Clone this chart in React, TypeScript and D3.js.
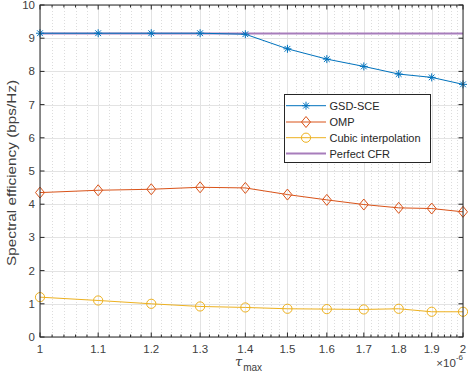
import React from "react";
import * as d3 from "d3";

const tauValues = [1, 1.1, 1.2, 1.3, 1.4, 1.5, 1.6, 1.7, 1.8, 1.9, 2];
const gsdSce = [9.15, 9.15, 9.15, 9.15, 9.12, 8.68, 8.37, 8.15, 7.92, 7.82, 7.61];
const omp = [4.35, 4.42, 4.45, 4.51, 4.49, 4.29, 4.13, 3.99, 3.89, 3.87, 3.77];
const cubic = [1.2, 1.1, 1.0, 0.92, 0.89, 0.85, 0.84, 0.83, 0.85, 0.76, 0.76];
const perfectCfr = [9.14, 9.14];
const perfectTau = [1, 2];

const xTickLabels = ["1", "1.1", "1.2", "1.3", "1.4", "1.5", "1.6", "1.7", "1.8", "1.9", "2"];
const yTicks = [0, 1, 2, 3, 4, 5, 6, 7, 8, 9, 10];

const W = 468;
const H = 382;
const m = { left: 40, right: 5, top: 5, bottom: 45 };

const AX = "#262626";
const LBL = "#404040";
const C1 = "#0072BD";
const C2 = "#D95319";
const C3 = "#EDB120";
const C4 = "#A77DBB";
const FONT = "'Liberation Sans', Arial, Helvetica, sans-serif";

const Asterisk = ({ x, y, color }: { x: number; y: number; color: string }) => {
  const r = 4;
  const d = r * 0.72;
  return (
    <path
      d={`M${x - r},${y}H${x + r}M${x},${y - r}V${y + r}M${x - d},${y - d}L${x + d},${y + d}M${x - d},${y + d}L${x + d},${y - d}`}
      stroke={color}
      strokeWidth={1}
      fill="none"
    />
  );
};

const Diamond = ({ x, y, color }: { x: number; y: number; color: string }) => (
  <path
    d={`M${x},${y - 5.5}L${x + 4.5},${y}L${x},${y + 5.5}L${x - 4.5},${y}Z`}
    stroke={color}
    strokeWidth={1}
    fill="none"
  />
);

const Circle = ({ x, y, color }: { x: number; y: number; color: string }) => (
  <circle cx={x} cy={y} r={4.6} stroke={color} strokeWidth={1} fill="none" />
);

export default function App() {
  const x = d3.scaleLog().domain([1, 2]).range([m.left, W - m.right]);
  const y = d3.scaleLinear().domain([0, 10]).range([H - m.bottom, m.top]);
  const x0 = m.left;
  const x1 = W - m.right;
  const y0 = H - m.bottom;
  const y1 = m.top;

  // log-axis minor ticks every 0.02
  const minorTicks = d3.range(1, 50).map(i => 1 + i * 0.02).filter(v => v < 2 && Math.round(v * 100) % 10 !== 0);

  const line = d3
    .line<number>()
    .x((_, i) => x(tauValues[i]))
    .y(d => y(d));

  const series = [
    { name: "GSD-SCE", values: gsdSce, color: C1, Marker: Asterisk },
    { name: "OMP", values: omp, color: C2, Marker: Diamond },
    { name: "Cubic interpolation", values: cubic, color: C3, Marker: Circle },
  ];

  const perfectLine = d3
    .line<number>()
    .x((_, i) => x(perfectTau[i]))
    .y(d => y(d));

  const legend = { x: 284.5, y: 94.5, w: 146, h: 68 };
  const rowY = [105.7, 122, 137.7, 153.5];

  return (
    <svg
      width={W}
      height={H}
      style={{ position: "absolute", left: 0, top: 0, background: "#fff" }}
      fontFamily={FONT}
    >
      <rect x={0} y={0} width={W} height={H} fill="#fff" />
      {/* minor grid */}
      {minorTicks.map(v => (
        <line
          key={"mg" + v}
          x1={Math.round(x(v)) + 0.5}
          x2={Math.round(x(v)) + 0.5}
          y1={y1}
          y2={y0}
          stroke="#dcdcdc"
          strokeWidth={1}
          strokeDasharray="1,2"
        />
      ))}
      {/* major grid */}
      {tauValues.map(v => (
        <line
          key={"gx" + v}
          x1={Math.round(x(v)) + 0.5}
          x2={Math.round(x(v)) + 0.5}
          y1={y1}
          y2={y0}
          stroke="#e3e3e3"
        />
      ))}
      {yTicks.map(v => (
        <line key={"gy" + v} x1={x0} x2={x1} y1={Math.round(y(v)) + 0.5} y2={Math.round(y(v)) + 0.5} stroke="#e3e3e3" />
      ))}

      {/* series */}
      <path d={perfectLine(perfectCfr) || ""} stroke={C4} strokeWidth={2} fill="none" />
      {series.map(s => (
        <g key={s.name}>
          <path d={line(s.values) || ""} stroke={s.color} strokeWidth={1} fill="none" />
          {s.values.map((v, i) => (
            <s.Marker key={i} x={x(tauValues[i])} y={y(v)} color={s.color} />
          ))}
        </g>
      ))}

      {/* axes box */}
      <rect x={x0} y={y1} width={x1 - x0} height={y0 - y1} fill="none" stroke={AX} strokeWidth={1} />
      {tauValues.map(v => (
        <g key={"tx" + v}>
          <line x1={x(v)} x2={x(v)} y1={y0} y2={y0 - 4.5} stroke={AX} />
          <line x1={x(v)} x2={x(v)} y1={y1} y2={y1 + 4.5} stroke={AX} />
        </g>
      ))}
      {minorTicks.map(v => (
        <g key={"mt" + v}>
          <line x1={x(v)} x2={x(v)} y1={y0} y2={y0 - 2.5} stroke={AX} />
          <line x1={x(v)} x2={x(v)} y1={y1} y2={y1 + 2.5} stroke={AX} />
        </g>
      ))}
      {yTicks.map(v => (
        <g key={"ty" + v}>
          <line x1={x0} x2={x0 + 4.5} y1={y(v)} y2={y(v)} stroke={AX} />
          <line x1={x1} x2={x1 - 4.5} y1={y(v)} y2={y(v)} stroke={AX} />
          <text x={x0 - 5} y={y(v) + 4} textAnchor="end" fontSize={11.5} fill={LBL}>
            {v}
          </text>
        </g>
      ))}
      {tauValues.map((v, i) => (
        <text key={"lx" + v} x={x(v)} y={y0 + 15.5} textAnchor="middle" fontSize={11.5} fill={LBL}>
          {xTickLabels[i]}
        </text>
      ))}

      {/* axis labels */}
      <text x={235} y={366} fontSize={13} fill={LBL} fontFamily="'DejaVu Serif', serif" fontStyle="italic">
        τ
        <tspan fontSize={10} dy={5} fontFamily={FONT} fontStyle="normal" dx={1}>
          max
        </tspan>
      </text>
      <text x={463} y={367} textAnchor="end" fontSize={11.5} fill={LBL}>
        ×10
        <tspan fontSize={8} dy={-7}>
          -6
        </tspan>
      </text>
      <text
        transform={`translate(16,173) rotate(-90)`}
        textAnchor="middle"
        fontSize={13}
        fill={LBL}
        textLength={186}
        lengthAdjust="spacingAndGlyphs"
      >
        Spectral efficiency (bps/Hz)
      </text>

      {/* legend */}
      <rect x={legend.x} y={legend.y} width={legend.w} height={legend.h} fill="#fff" stroke={AX} strokeWidth={1} />
      {series.map((s, i) => (
        <g key={"lg" + s.name}>
          <line x1={286} x2={326} y1={rowY[i]} y2={rowY[i]} stroke={s.color} />
          <s.Marker x={306} y={rowY[i]} color={s.color} />
          <text x={329.5} y={rowY[i] + 4} fontSize={11} fill={AX}>
            {s.name}
          </text>
        </g>
      ))}
      <line x1={286} x2={326} y1={rowY[3]} y2={rowY[3]} stroke={C4} strokeWidth={2} />
      <text x={329.5} y={rowY[3] + 4} fontSize={11} fill={AX}>
        Perfect CFR
      </text>
    </svg>
  );
}
